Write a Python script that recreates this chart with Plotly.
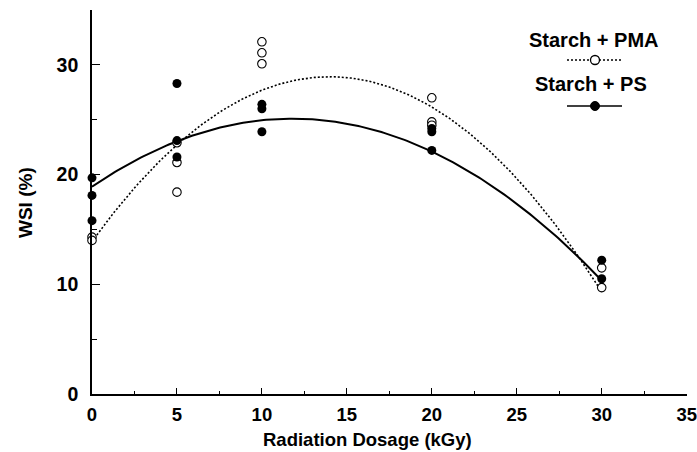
import numpy as np
import plotly.graph_objects as go

# ---- data ----
pma_x = [0, 0, 5, 5, 5, 10, 10, 10, 20, 20, 20, 30, 30]
pma_y = [14.3, 14.0, 22.9, 21.1, 18.4, 32.1, 31.1, 30.1, 27.0, 24.8, 24.5, 11.5, 9.7]

ps_x = [0, 0, 0, 5, 5, 5, 10, 10, 10, 20, 20, 20, 30, 30]
ps_y = [19.7, 18.1, 15.8, 28.3, 23.1, 21.6, 26.4, 26.0, 23.9, 24.2, 23.9, 22.2, 12.2, 10.5]

# quadratic fit coefficients (a + b x + c x^2)
pma_fit = [13.9, 2.145, -0.0766]
ps_fit = [18.9, 1.05, -0.0445]
fit_span = [0, 30]

x_ticks = [0, 5, 10, 15, 20, 25, 30, 35]
y_ticks = [0, 10, 20, 30]

FONT = "Liberation Sans, Arial, sans-serif"

# plot area in pixels
L, R, T, B = 92, 687, 10, 394
W, H = 697, 452


def px(xp):
    return (xp - L) / (R - L)


def py(yp):
    return (B - yp) / (B - T)


xf = np.linspace(fit_span[0], fit_span[1], 200)
pma_curve = pma_fit[0] + pma_fit[1] * xf + pma_fit[2] * xf ** 2
ps_curve = ps_fit[0] + ps_fit[1] * xf + ps_fit[2] * xf ** 2

fig = go.Figure()
fig.add_trace(go.Scatter(x=xf, y=pma_curve, mode="lines",
                         line=dict(color="black", width=1.6, dash="2px,2px"),
                         showlegend=False, hoverinfo="skip"))
fig.add_trace(go.Scatter(x=xf, y=ps_curve, mode="lines",
                         line=dict(color="black", width=2),
                         showlegend=False, hoverinfo="skip"))
fig.add_trace(go.Scatter(x=pma_x, y=pma_y, mode="markers", cliponaxis=False,
                         marker=dict(symbol="circle", size=8.5, color="white",
                                     line=dict(color="black", width=1.1)),
                         showlegend=False))
fig.add_trace(go.Scatter(x=ps_x, y=ps_y, mode="markers", cliponaxis=False,
                         marker=dict(symbol="circle", size=9, color="black",
                                     line=dict(color="black", width=0)),
                         showlegend=False))

shapes = []
annotations = []

# legend (text above sample, like the reference)
annotations.append(dict(text="<b>Starch + PMA</b>", xref="paper", yref="paper",
                        x=px(593), y=py(40), xanchor="center", yanchor="middle",
                        showarrow=False, font=dict(family=FONT, size=20, color="black")))
annotations.append(dict(text="<b>Starch + PS</b>", xref="paper", yref="paper",
                        x=px(591), y=py(84), xanchor="center", yanchor="middle",
                        showarrow=False, font=dict(family=FONT, size=20, color="black")))
shapes.append(dict(type="line", xref="paper", yref="paper",
                   x0=px(567), x1=px(623), y0=py(60), y1=py(60),
                   line=dict(color="black", width=1.3, dash="2px,2px")))
shapes.append(dict(type="circle", xref="paper", yref="paper", xsizemode="pixel",
                   ysizemode="pixel", xanchor=px(595), yanchor=py(60),
                   x0=-4.5, x1=4.5, y0=-4.5, y1=4.5,
                   fillcolor="white", line=dict(color="black", width=1.3)))
shapes.append(dict(type="line", xref="paper", yref="paper",
                   x0=px(567), x1=px(622), y0=py(106), y1=py(106),
                   line=dict(color="black", width=1.6)))
shapes.append(dict(type="circle", xref="paper", yref="paper", xsizemode="pixel",
                   ysizemode="pixel", xanchor=px(595), yanchor=py(106),
                   x0=-4.5, x1=4.5, y0=-4.5, y1=4.5,
                   fillcolor="black", line=dict(color="black", width=1)))

# axis titles
annotations.append(dict(text="<b>Radiation Dosage (kGy)</b>", xref="paper", yref="paper",
                        x=px(367), y=py(439), xanchor="center", yanchor="middle",
                        showarrow=False, font=dict(family=FONT, size=18.5, color="black")))
annotations.append(dict(text="<b>WSI (%)</b>", xref="paper", yref="paper",
                        x=px(25), y=py(203), xanchor="center", yanchor="middle",
                        textangle=-90, showarrow=False,
                        font=dict(family=FONT, size=19, color="black")))

fig.update_layout(
    width=W, height=H,
    margin=dict(l=L, r=W - R, t=T, b=H - B, pad=0, autoexpand=False),
    paper_bgcolor="white", plot_bgcolor="white",
    shapes=shapes, annotations=annotations,
    showlegend=False,
)
fig.update_xaxes(range=[0, 35.02], tickmode="array", tickvals=x_ticks,
                 ticktext=[str(v) for v in x_ticks], automargin=False,
                 ticks="inside", ticklen=6, tickwidth=1.2, tickcolor="black",
                 minor=dict(ticks="inside", ticklen=3, tickwidth=1, tickcolor="black", dtick=2.5, tick0=0),
                 showline=True, linecolor="black", linewidth=1.5,
                 showgrid=False, zeroline=False, ticklabelstandoff=3,
                 tickfont=dict(family=FONT, size=18.5, color="black", weight="bold"))
fig.update_yaxes(range=[0, 35], tickmode="array", tickvals=y_ticks,
                 ticktext=[str(v) for v in y_ticks], automargin=False,
                 ticks="inside", ticklen=8, tickwidth=1.2, tickcolor="black",
                 minor=dict(ticks="inside", ticklen=5, tickwidth=1, tickcolor="black", dtick=5, tick0=0),
                 showline=True, linecolor="black", linewidth=1.6,
                 showgrid=False, zeroline=False, ticklabelstandoff=8,
                 tickfont=dict(family=FONT, size=19.5, color="black", weight="bold"))

fig.write_html("out.html")
